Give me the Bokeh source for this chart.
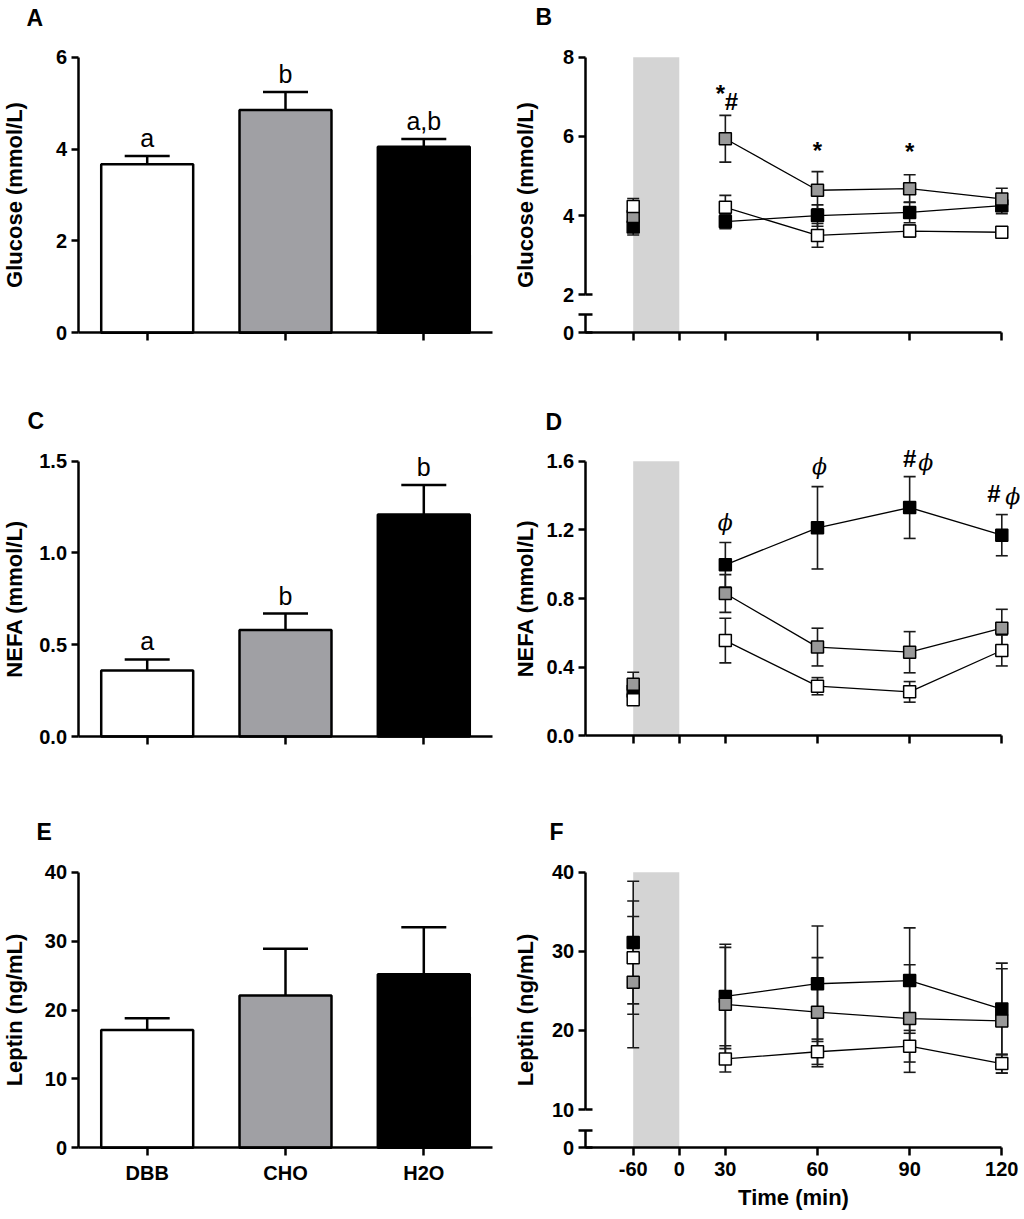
import math
from bokeh.plotting import figure
from bokeh.layouts import column, row
from bokeh.models import (ColumnDataSource, FixedTicker, LinearAxis, Whisker, TeeHead,
                          BoxAnnotation, PrintfTickFormatter, Range1d, Label,
                          CustomJSTickFormatter)
from bokeh.embed import file_html
from bokeh.resources import INLINE

FONT = "Liberation Sans"

# ---- left column: group means (+SEM)
groups = ["DBB", "CHO", "H2O"]
bar_colors = ["white", "#a0a0a4", "black"]

glucose_mean = [3.67, 4.85, 4.05]
glucose_sem = [0.18, 0.39, 0.17]
glucose_letters = ["a", "b", "a,b"]

nefa_mean = [0.36, 0.58, 1.21]
nefa_sem = [0.06, 0.09, 0.16]
nefa_letters = ["a", "b", "b"]

leptin_mean = [17.1, 22.1, 25.2]
leptin_sem = [1.7, 6.8, 6.8]

# ---- right column: time course (mean +/- SEM)
times = [-60, 30, 60, 90, 120]
time_ticks = [-60, 0, 30, 60, 90, 120]
shade = (-60, 0)
marker_colors = {"H2O": "black", "CHO": "#999999", "DBB": "white"}

glu_dbb = [4.23, 4.21, 3.50, 3.61, 3.58]
glu_dbb_sem = [0.20, 0.30, 0.30, 0.15, 0.05]
glu_cho = [3.98, 5.94, 4.64, 4.68, 4.42]
glu_cho_sem = [0.10, 0.59, 0.47, 0.35, 0.27]
glu_h2o = [3.71, 3.85, 4.00, 4.08, 4.25]
glu_h2o_sem = [0.20, 0.18, 0.27, 0.26, 0.20]

nefa_dbb = [0.21, 0.555, 0.289, 0.256, 0.497]
nefa_dbb_sem = [0.03, 0.13, 0.05, 0.06, 0.09]
nefa_cho = [0.30, 0.829, 0.517, 0.487, 0.627]
nefa_cho_sem = [0.07, 0.11, 0.11, 0.12, 0.11]
nefa_h2o = [0.26, 0.996, 1.212, 1.33, 1.169]
nefa_h2o_sem = [0.05, 0.13, 0.24, 0.18, 0.12]

lep_dbb = [29.2, 16.4, 17.3, 18.0, 15.8]
lep_dbb_sem = [7.15, 1.65, 1.6, 2.0, 1.2]
lep_cho = [26.1, 23.3, 22.3, 21.5, 21.2]
lep_cho_sem = [8.3, 7.2, 6.9, 6.8, 6.6]
lep_h2o = [31.1, 24.3, 25.9, 26.3, 22.7]
lep_h2o_sem = [7.75, 6.6, 7.3, 6.66, 5.8]

# significance marks (B: above CHO error bar, D: above H2O error bar)
glu_star_times = [30, 60, 90]
glu_hash_times = [30]
nefa_phi_times = [30, 60, 90, 120]
nefa_hash_times = [90, 120]

# broken time axis: slot of each time label along x
time_slot = {-60: 0, 0: 1, 30: 2, 60: 4, 90: 6, 120: 8}

# page layout (pixels)
LEFT_W, RIGHT_W = 508, 512
ROW_TOP = [0, 405, 812]
ROW_H = [405, 407, 404]
BAR_X = ((146.7, 1), (423.3, 3))
TIME_X = ((632.7, 0), (1001.3, 8))
BASELINE_FIX = 7  # labels sit this much low with an alphabetic baseline


def new_panel(box, xa, ya):
    x0, y0, w, h = box

    def fx(px):
        return xa[0][1] + (px - xa[0][0]) * (xa[1][1] - xa[0][1]) / (xa[1][0] - xa[0][0])

    def fy(py):
        return ya[0][1] + (py - ya[0][0]) * (ya[1][1] - ya[0][1]) / (ya[1][0] - ya[0][0])

    p = figure(x_range=Range1d(fx(x0), fx(x0 + w)), y_range=Range1d(fy(y0 + h), fy(y0)),
               frame_width=w, frame_height=h, min_border=0,
               x_axis_location=None, y_axis_location=None,
               toolbar_location=None, output_backend="svg")
    p.grid.visible = False
    p.outline_line_color = None
    p.title.visible = False
    return p, fx, fy


def add_axis(p, side, at, ticks, bounds="auto", fmt=None, overrides=None,
             tick_in=0, tick_out=7, line=True, standoff=4):
    ax = LinearAxis(fixed_location=at, bounds=bounds, ticker=FixedTicker(ticks=ticks))
    if fmt is not None:
        ax.formatter = fmt
    if overrides is not None:
        ax.major_label_overrides = overrides
    ax.axis_line_width = 2.5
    ax.axis_line_color = "black" if line else None
    ax.major_tick_line_width = 2.5
    ax.major_tick_line_color = "black"
    ax.major_tick_in = tick_in
    ax.major_tick_out = tick_out
    ax.minor_tick_line_color = None
    ax.major_label_standoff = standoff
    ax.major_label_text_font = FONT
    ax.major_label_text_font_style = "bold"
    ax.major_label_text_font_size = "20px"
    ax.major_label_text_color = "black"
    p.add_layout(ax, side)
    return ax


def add_text(p, x, y, text, size, style="bold", font=FONT, align="center",
             baseline="alphabetic", dx=0, dy=0, angle=0.0):
    if baseline == "alphabetic":
        dy += BASELINE_FIX
    p.add_layout(Label(x=x, y=y, text=text, x_offset=dx, y_offset=dy, angle=angle,
                       text_align=align, text_baseline=baseline, text_font=font,
                       text_font_size=size, text_font_style=style, text_color="black"))


def bar_panel(r, ya, letter, letter_px, means, sems, ylabel, yticks, fmt,
              letters=None, show_x=False):
    p, fx, fy = new_panel((0, ROW_TOP[r], LEFT_W, ROW_H[r]), BAR_X, ya)
    xs = [i + 1 for i in range(len(groups))]
    up = [m + s for m, s in zip(means, sems)]
    src = ColumnDataSource(dict(x=xs, m=means, up=up, c=bar_colors))
    p.add_layout(Whisker(base="x", lower="m", upper="up", source=src, dimension="height",
                         line_color="black", line_width=2.5, lower_head=None,
                         upper_head=TeeHead(size=45, line_color="black", line_width=2.5)))
    p.vbar(x="x", top="m", bottom=0, width=0.665, fill_color="c", line_color="black",
           line_width=2.5, source=src)
    if letters:
        for x, t, y in zip(xs, letters, up):
            add_text(p, x, y, t, "25px", style="normal", dy=11)

    x_lo, x_hi = xs[0] - 0.5, xs[-1] + 0.5
    add_axis(p, "left", x_lo, yticks, bounds=(0, yticks[-1]),
             fmt=PrintfTickFormatter(format=fmt))
    labels = {x: (g if show_x else "") for x, g in zip(xs, groups)}
    add_axis(p, "below", 0, xs, bounds=(x_lo, x_hi), overrides=labels, tick_out=8,
             standoff=6)

    add_text(p, fx(14), (yticks[0] + yticks[-1]) / 2, ylabel, "22px",
             baseline="middle", angle=math.pi / 2)
    add_text(p, fx(letter_px[0]), fy(letter_px[1]), letter, "23px", align="left")
    return p


def time_panel(r, ya, letter, letter_px, series, ylabel, yticks, fmt,
               brk=None, show_x=False, marks=()):
    p, fx, fy = new_panel((LEFT_W, ROW_TOP[r], RIGHT_W, ROW_H[r]), TIME_X, ya)
    x_start = fx(584.7)
    y_top = yticks[-1]
    y_bot = fy(brk[0]) if brk else yticks[0]

    p.add_layout(BoxAnnotation(left=time_slot[shade[0]], right=time_slot[shade[1]],
                               bottom=y_bot, top=y_top, fill_color="#d4d4d4",
                               fill_alpha=1.0, line_color=None, level="underlay"))
    xs = [time_slot[t] for t in times]
    for name, m, s in series:
        src = ColumnDataSource(dict(x=xs, lo=[a - b for a, b in zip(m, s)],
                                    hi=[a + b for a, b in zip(m, s)]))
        p.add_layout(Whisker(base="x", lower="lo", upper="hi", source=src,
                             line_color="#1a1a1a", line_width=1.6,
                             upper_head=TeeHead(size=12, line_color="#1a1a1a", line_width=1.6),
                             lower_head=TeeHead(size=12, line_color="#1a1a1a", line_width=1.6)))
    for name, m, s in series:
        p.line(xs[1:], m[1:], line_color="black", line_width=1.3)
        p.scatter(xs, m, marker="square", size=12, fill_color=marker_colors[name],
                  line_color="black", line_width=1.5)

    for t, ref, txt, font, size, style, ddx, ddy in marks:
        i = times.index(t)
        add_text(p, time_slot[t], ref[0][i] + ref[1][i], txt, size, style=style,
                 font=font, dx=ddx, dy=ddy)

    # y axis (with a break above zero when brk is given)
    if brk:
        stub_top = fy(brk[1])
        add_axis(p, "left", x_start, yticks, bounds=(yticks[0], y_top),
                 fmt=PrintfTickFormatter(format=fmt))
        add_axis(p, "left", x_start, [yticks[0]], tick_in=7, tick_out=0, line=False,
                 overrides={yticks[0]: ""})
        zero_fmt = CustomJSTickFormatter(args=dict(z=y_bot),
                                         code="return Math.abs(tick - z) < 1e-6 ? '0' : ''")
        add_axis(p, "left", x_start, [y_bot, stub_top], bounds=(y_bot, stub_top),
                 fmt=zero_fmt, tick_in=7, tick_out=7)
    else:
        add_axis(p, "left", x_start, yticks, bounds=(yticks[0], y_top),
                 fmt=PrintfTickFormatter(format=fmt))

    slots = [time_slot[t] for t in time_ticks]
    labels = {time_slot[t]: (str(t) if show_x else "") for t in time_ticks}
    add_axis(p, "below", y_bot, slots, bounds=(x_start, slots[-1]), overrides=labels,
             tick_out=8, standoff=6)

    mid_px = (ya[0][0] + ya[1][0]) / 2 if not brk else (ya[1][0] + brk[0]) / 2
    add_text(p, fx(525), fy(mid_px), ylabel, "22px", baseline="middle", angle=math.pi / 2)
    add_text(p, fx(letter_px[0]), fy(letter_px[1]), letter, "23px", align="left")
    if show_x:
        add_text(p, (x_start + slots[-1]) / 2, fy(1197), "Time (min)", "22px",
                 baseline="middle")
    return p


glu_series = [("H2O", glu_h2o, glu_h2o_sem), ("CHO", glu_cho, glu_cho_sem),
              ("DBB", glu_dbb, glu_dbb_sem)]
nefa_series = [("H2O", nefa_h2o, nefa_h2o_sem), ("CHO", nefa_cho, nefa_cho_sem),
               ("DBB", nefa_dbb, nefa_dbb_sem)]
lep_series = [("H2O", lep_h2o, lep_h2o_sem), ("CHO", lep_cho, lep_cho_sem),
              ("DBB", lep_dbb, lep_dbb_sem)]

cho_ref = (glu_cho, glu_cho_sem)
h2o_ref = (nefa_h2o, nefa_h2o_sem)
star_dx = [-5, 0, 0]
star_dy = [15, 14, 16]
glu_marks = [(t, cho_ref, "*", FONT, "24px", "bold", star_dx[i], star_dy[i])
             for i, t in enumerate(glu_star_times)]
glu_marks += [(t, cho_ref, "#", FONT, "24px", "bold", 6, 7) for t in glu_hash_times]

phi_dx = [0, 2, 16, 11]
phi_dy = [13, 13, 7, 11]
hash_dx = [0, -8]
hash_dy = [11, 14]
nefa_marks = [(t, h2o_ref, "\u03d5", "DejaVu Serif", "22px", "italic", phi_dx[i], phi_dy[i])
              for i, t in enumerate(nefa_phi_times)]
nefa_marks += [(t, h2o_ref, "#", FONT, "24px", "bold", hash_dx[i], hash_dy[i])
               for i, t in enumerate(nefa_hash_times)]

pA = bar_panel(0, ((332.3, 0), (56.7, 6)), "A", (26, 24), glucose_mean, glucose_sem,
               "Glucose (mmol/L)", [0, 2, 4, 6], "%d", letters=glucose_letters)
pC = bar_panel(1, ((736.0, 0), (460.7, 1.5)), "C", (27, 427), nefa_mean, nefa_sem,
               "NEFA (mmol/L)", [0, 0.5, 1.0, 1.5], "%.1f", letters=nefa_letters)
pE = bar_panel(2, ((1147.3, 0), (871.7, 40)), "E", (36, 838), leptin_mean, leptin_sem,
               "Leptin (ng/mL)", [0, 10, 20, 30, 40], "%d", show_x=True)

pB = time_panel(0, ((294.3, 2), (56.7, 8)), "B", (535, 23), glu_series,
                "Glucose (mmol/L)", [2, 4, 6, 8], "%d", brk=(332.3, 314.3), marks=glu_marks)
pD = time_panel(1, ((735.3, 0), (460.7, 1.6)), "D", (545, 428), nefa_series,
                "NEFA (mmol/L)", [0, 0.4, 0.8, 1.2, 1.6], "%.1f", marks=nefa_marks)
pF = time_panel(2, ((1109.0, 10), (871.7, 40)), "F", (549, 838), lep_series,
                "Leptin (ng/mL)", [10, 20, 30, 40], "%d", brk=(1147.3, 1130.0), show_x=True)

layout = column(row(pA, pB), row(pC, pD), row(pE, pF))

open("out.html", "w").write(file_html(layout, INLINE))
